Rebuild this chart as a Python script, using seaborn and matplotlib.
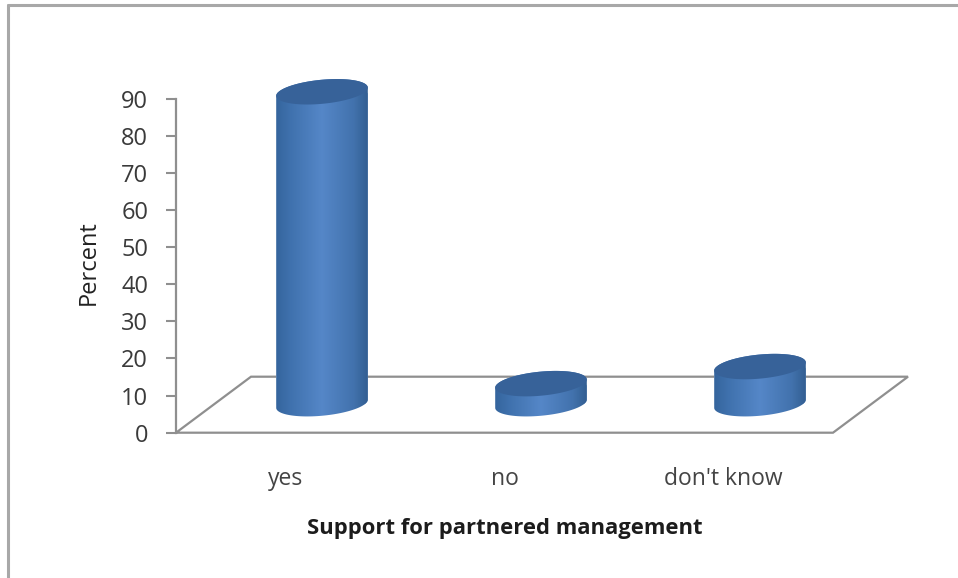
import numpy as np
import pandas as pd
import seaborn as sns
import matplotlib
matplotlib.use("Agg")
import matplotlib.pyplot as plt
from matplotlib.colors import LinearSegmentedColormap
from matplotlib.lines import Line2D
from matplotlib.patches import Polygon

categories = ["yes", "no", "don't know"]
percent = [84, 5.4, 10]
y_ticks = [0, 10, 20, 30, 40, 50, 60, 70, 80, 90]
x_title = "Support for partnered management"
y_title = "Percent"

W, H = 958, 578
sns.set_theme(style="white")
plt.rcParams["font.family"] = ["Open Sans", "DejaVu Sans"]

fig = plt.figure(figsize=(W / 100, H / 100), dpi=100, facecolor="white")


def rect(x0, x1, ytop, ybot):
    return [x0 / W, 1 - ybot / H, (x1 - x0) / W, (ybot - ytop) / H]


GREY = "#8f8f8f"
TXT = "#3a3a3a"

# front (axis) plane
ax = fig.add_axes(rect(176, 833, 98.5, 432.7), facecolor="none")
ax.set_xlim(-0.5, 2.5)
ax.set_ylim(0, 90)
ax.set_yticks(y_ticks)
ax.set_xticks(range(len(categories)))
ax.set_xticklabels(categories, fontsize=16.5, color="#444444")
ax.tick_params(axis="y", length=7, width=1.5, color=GREY, left=True, pad=13,
               labelsize=17, labelcolor=TXT)
ax.tick_params(axis="x", length=0, pad=25)
for s in ["top", "right", "bottom"]:
    ax.spines[s].set_visible(False)
ax.spines["left"].set_color(GREY)
ax.spines["left"].set_linewidth(1.6)
ax.set_ylabel(y_title, fontsize=17, color="#222222", labelpad=15, y=0.51)
ax.set_xlabel(x_title, fontsize=15.8, fontweight="bold", color="#1c1c1c", labelpad=19)

# floor outline
depth_x, depth_y = 75 / 657, 56 / 334.2
floor = [(0, 0), (1, 0), (1 + depth_x, depth_y), (depth_x, depth_y), (0, 0)]
fx, fy = zip(*floor)
ax.add_line(Line2D(fx, fy, transform=ax.transAxes, color=GREY, lw=1.6, clip_on=False,
                   solid_joinstyle="miter"))

# bars stand half way back on the floor; the axes reach a little below zero
# so that the rounded cylinder bases are not cut off
px_x, px_y = 657 / 3, 334.2 / 90
floor_pad = 8
bar_ax = fig.add_axes(rect(176 + 36.5, 833 + 36.5, 98.5 - 29, 432.7 - 29 + floor_pad * px_y),
                      facecolor="none")
frame = pd.DataFrame({"category": categories, "percent": percent})
sns.barplot(data=frame, x="category", y="percent", ax=bar_ax, width=0.418,
            color="#4f7fbd", saturation=1)
bar_ax.axis("off")

A, B, TILT = 46.0, 12.0, np.deg2rad(5.5)
shade = LinearSegmentedColormap.from_list(
    "cyl", [(0, "#35659d"), (0.15, "#3f71ad"), (0.5, "#5587c8"), (0.85, "#4272ad"), (1, "#335f92")])


def ellipse(cx, cy, t):
    dx = A * np.cos(t) * np.cos(TILT) - B * np.sin(t) * np.sin(TILT)
    dy = A * np.cos(t) * np.sin(TILT) + B * np.sin(t) * np.cos(TILT)
    return cx + dx / px_x, cy + dy / px_y


for bar in list(bar_ax.patches):
    cx = bar.get_x() + bar.get_width() / 2
    v = bar.get_height()
    lower = np.linspace(np.pi, 2 * np.pi, 60)
    upper = np.linspace(0, np.pi, 60)
    bx, by = ellipse(cx, 0, lower)
    tx, ty = ellipse(cx, v, upper)
    body = Polygon(np.column_stack([np.r_[bx, tx], np.r_[by, ty]]), closed=True,
                   transform=bar_ax.transData, fc="none", ec="none")
    bar_ax.add_patch(body)
    bar.set_clip_path(body)
    half = A / px_x
    im = bar_ax.imshow(np.linspace(0, 1, 128)[None, :], cmap=shade, aspect="auto",
                       extent=(cx - half, cx + half, -floor_pad, v + 10), zorder=3)
    im.set_clip_path(body)
    ex, ey = ellipse(cx, v, np.linspace(0, 2 * np.pi, 120))
    bar_ax.add_patch(Polygon(np.column_stack([ex, ey]), closed=True, fc="#376299",
                             ec="none", zorder=4))
bar_ax.set_xlim(-0.5, 2.5)
bar_ax.set_ylim(-floor_pad, 90)

# chart frame
for xs, ys in [([8, 8], [5, 578]), ([8, 958], [5, 5])]:
    fig.add_artist(Line2D([x / W for x in xs], [1 - y / H for y in ys], color="#a8a8a8", lw=2.2))

fig.savefig("out.png", dpi=100)
